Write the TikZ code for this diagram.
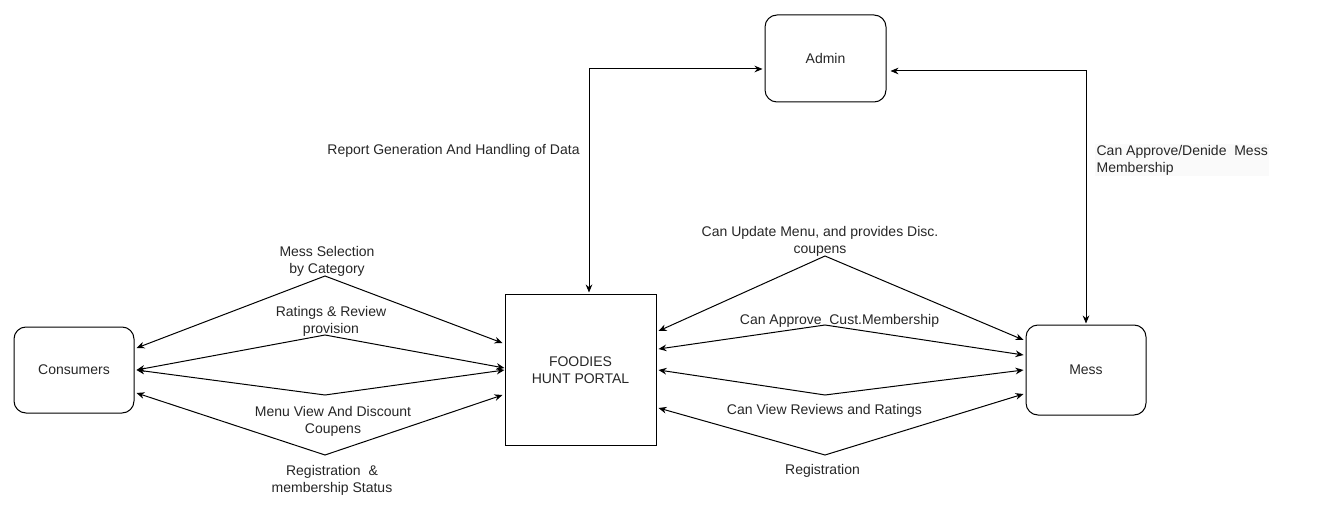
\documentclass[tikz,border=0pt]{standalone}
\usepackage{fontspec}
\setmainfont{Liberation Sans}
\usetikzlibrary{arrows.meta, calc, positioning}

\begin{document}
\begin{tikzpicture}[x=0.75pt, y=-0.75pt, >={Stealth[length=6pt, width=5pt]}, font=\fontsize{10.5pt}{12.75pt}\selectfont, text=black!85,
  entity/.style={draw, rounded corners=9pt, line width=0.75pt, align=center},
  flow/.style={<->, line width=0.75pt},
  lbl/.style={align=center, inner sep=1pt}]

\useasboundingbox (0,0) rectangle (1331,513);

\node[draw, rectangle, line width=0.75pt, minimum height=112.5pt, minimum width=113.25pt, align=center] (portal) at (580.5,370) {FOODIES\\HUNT PORTAL};
\node[entity, minimum height=64.5pt, minimum width=90pt, left=277.5pt of portal] (cons) {Consumers};
\node[entity, minimum height=67.5pt, minimum width=90pt, right=276.75pt of portal] (mess) {Mess};
\node[entity, minimum height=65.25pt, minimum width=90.75pt] (admin) at (825.5,58.5) {Admin};

% consumers <-> portal
\draw[flow] ($(cons.east)+(2,-22)$) -- (325,276) -- ($(portal.west)+(-2,-27)$);
\draw[flow] ($(cons.east)+(2,0)$) -- (325,335) -- ($(portal.west)+(0,-2)$);
\draw[flow] ($(cons.east)+(2,0)$) -- (325,395) -- (portal.west);
\draw[flow] ($(cons.east)+(2,23)$) -- (325,455) -- ($(portal.west)+(-2,25)$);

% portal <-> mess
\draw[flow] ($(portal.east)+(2,-39)$) -- (825,256) -- ($(mess.west)+(-2,-30)$);
\draw[flow] ($(portal.east)+(2,-21)$) -- (825,325) -- ($(mess.west)+(-2,-15)$);
\draw[flow] ($(portal.east)+(2,0)$) -- (825,395) -- ($(mess.west)+(-2,0)$);
\draw[flow] ($(portal.east)+(2,38)$) -- (825,455) -- ($(mess.west)+(-2,24)$);

% admin links
\draw[flow] ($(portal.north)+(8.5,-2)$) |- ($(admin.west)+(-2,10.5)$);
\draw[flow] ($(admin.east)+(4,12.5)$) -| ($(mess.north)+(0,-1)$);

\node[lbl] (lblSel) at (327,261) {Mess Selection\\by Category};
\node[lbl] (lblRate) at (331,321) {Ratings \& Review\\provision};
\node[lbl] (lblMenu) at (333,421) {Menu View And Discount\\Coupens};
\node[lbl] (lblReg) at (332,480.5) {Registration\ \ \&\\membership Status};

\node[lbl] (lblUpd) at (820,241) {Can Update Menu, and provides Disc.\\coupens};
\node[lbl] (lblCust) at (839.5,321) {Can Approve\ \ Cust.Membership};
\node[lbl] (lblView) at (824.5,411) {Can View Reviews and Ratings};
\node[lbl] (lblMreg) at (822.5,471) {Registration};

\node[lbl] (lblRep) at (453.5,151) {Report Generation And Handling of Data};
\node[lbl, align=left, anchor=west, fill=black!2] (lblAppr) at (1095,160) {Can Approve/Denide\ \ Mess\\Membership};

\end{tikzpicture}
\end{document}
